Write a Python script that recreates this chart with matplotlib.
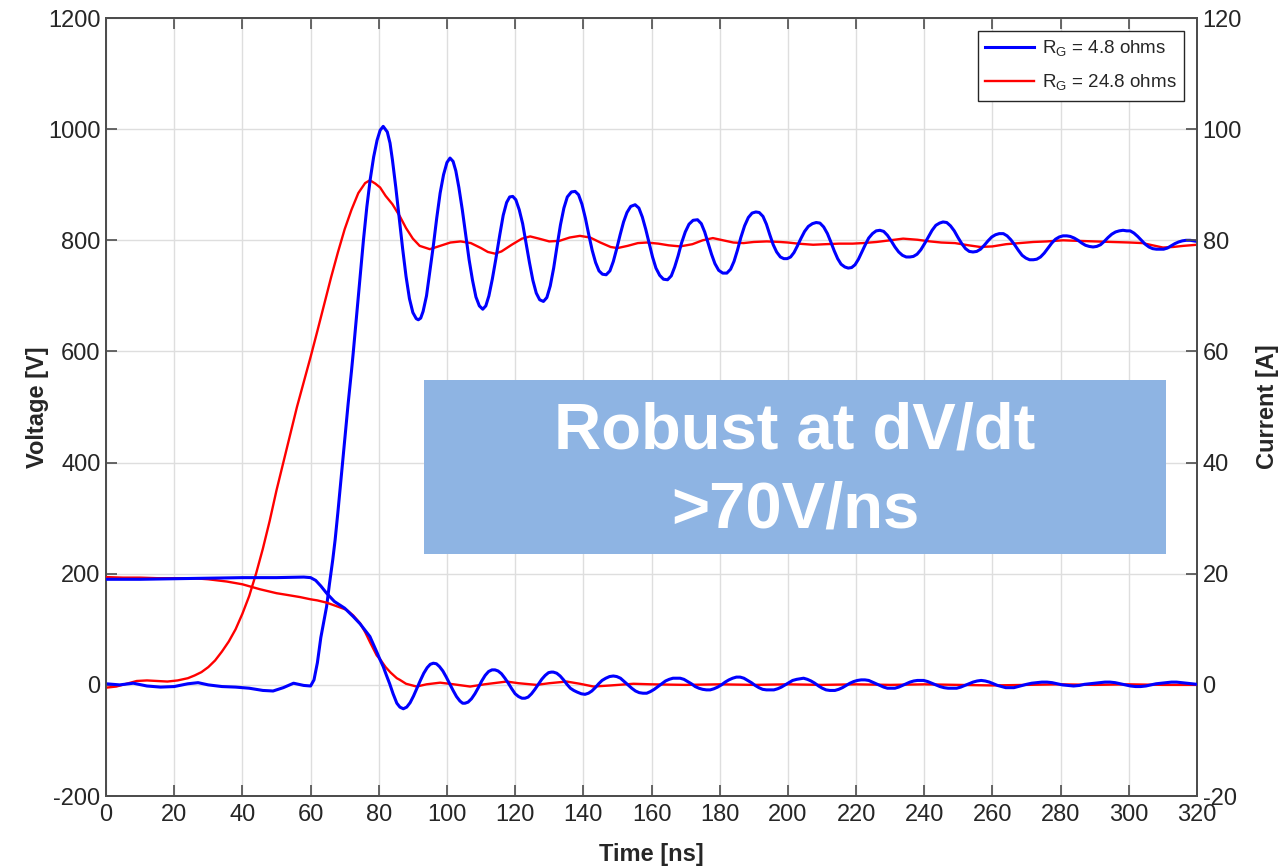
import matplotlib
matplotlib.use("Agg")
import matplotlib.pyplot as plt
from matplotlib.patches import Rectangle

# switching waveforms read off the scope capture
# time [ns], voltage [V] for RG = 4.8 ohms
t_v_blue = [0, 4, 8, 12, 16, 20, 24, 27, 30, 34, 38, 42, 46, 49, 52, 55, 58, 60, 61, 62, 63, 64,
            64.7, 65.5, 66.5, 67.2, 68, 69, 70, 71, 72, 72.5, 73.5, 74.5, 75.5, 76.5, 77.5, 78.5,
            79.5, 80.4, 81.3, 82.5, 83.3, 84, 85, 86, 87, 88, 89, 90, 91, 91.6, 92.3, 93, 94, 95,
            96, 97, 98, 99, 100, 100.9, 101.8, 102.6, 103.5, 104.5, 105.5, 106.5, 107.5, 108.5,
            109.5, 110.5, 111.4, 112.3, 113.3, 114.3, 115.5, 116.5, 117.5, 118.4, 119.3, 120.2,
            121.2, 122.2, 123.2, 124.2, 125.2, 126.2, 127.2, 128.3, 129.3, 130.3, 131.3, 132.3,
            133.3, 134.3, 135.3, 136.5, 137.6, 138.6, 139.6, 140.6, 141.6, 142.6, 143.6, 144.6,
            145.6, 146.7, 147.8, 148.8, 149.8, 150.8, 151.8, 152.8, 153.9, 155.2, 156.3, 157.3,
            158.3, 159.3, 160.3, 161.3, 162.4, 163.5, 164.7, 165.8, 166.8, 167.8, 168.8, 169.9,
            171, 172.2, 173.5, 174.6, 175.6, 176.6, 177.6, 178.6, 179.7, 180.9, 182.1, 183.2,
            184.2, 185.2, 186.2, 187.3, 188.4, 189.5, 190.6, 191.6, 192.7, 193.7, 194.7, 195.7,
            196.7, 197.8, 198.8, 199.8, 200.8, 201.8, 202.8, 203.8, 204.9, 206, 207.2, 208.3,
            209.4, 210.5, 211.6, 212.6, 213.6, 214.6, 215.6, 216.7, 217.7, 218.7, 219.7, 220.7,
            221.7, 222.7, 223.7, 224.8, 225.9, 227, 228.1, 229.2, 230.3, 231.4, 232.5, 233.6,
            234.7, 235.8, 236.8, 237.9, 239, 240.1, 241.2, 242.3, 243.4, 244.5, 245.5, 246.6,
            247.7, 248.8, 249.9, 251, 252.1, 253.2, 254.3, 255.4, 256.5, 257.6, 258.7, 259.8,
            260.9, 262, 263.2, 264.3, 265.4, 266.5, 267.6, 268.7, 269.8, 270.9, 272, 273, 274.1,
            275.2, 276.3, 277.4, 278.5, 279.6, 280.7, 281.8, 282.8, 284, 285.1, 286.2, 287.3,
            288.4, 289.5, 290.6, 291.7, 292.8, 293.9, 295, 296.1, 297.2, 298.3, 299.4, 300.4,
            301.5, 302.6, 303.7, 304.8, 305.9, 307, 308.1, 309.2, 310.2, 311.3, 312.4, 313.5,
            314.6, 315.7, 316.8, 318, 319, 320]
v_blue = [2, 0, 3, -2, -4, -3, 2, 4, 0, -3, -4, -6, -10, -11, -5, 3, -1, -2, 9, 40, 85, 118,
          141, 180, 225, 261, 310, 375, 440, 505, 565, 597, 665, 735, 800, 860, 910, 950,
          980, 998, 1005, 995, 975, 945, 895, 840, 785, 735, 695, 670, 659, 657, 660, 672, 700, 745,
          790, 840, 885, 918, 940, 948, 942, 925, 895, 855, 810, 765, 728, 698,
          682, 676, 682, 700, 730, 765, 810, 845, 868, 878, 879, 873,
          855, 830, 795, 760, 728, 705, 693, 690, 697, 718, 750, 790,
          828, 858, 878, 887, 888, 882, 865, 840, 810, 782, 760, 745,
          739, 738, 745, 762, 785, 810, 833, 850, 861, 864, 858, 842,
          820, 795, 770, 750, 737, 730, 729, 736, 752, 772, 795, 815,
          829, 836, 837, 830, 815, 795, 775, 758, 746, 741, 741, 748,
          762, 782, 805, 826, 841, 849, 851, 850, 843, 829, 810, 792,
          779, 770, 767, 767, 770, 778, 790, 803, 816, 825, 830, 832,
          831, 824, 812, 797, 781, 767, 757, 752, 750, 751, 756, 766,
          779, 792, 804, 812, 817, 818, 816, 809, 799, 788, 779, 773,
          770, 770, 771, 775, 783, 794, 806, 818, 827, 831, 833, 832,
          826, 817, 805, 794, 785, 780, 779, 780, 784, 791, 799, 806,
          810, 812, 812, 808, 801, 792, 782, 773, 768, 765, 765, 766, 770,
          777, 786, 795, 802, 806, 808, 808, 807, 804, 800, 795, 791,
          789, 788, 789, 792, 798, 805, 811, 815, 817, 818, 817, 817,
          813, 807, 800, 793, 788, 785, 784, 784, 784, 786, 790, 794,
          797, 799, 800, 800, 799, 798]

# time [ns], voltage [V] for RG = 24.8 ohms
t_v_red = [0, 3, 6, 9, 12, 15, 18, 21, 24, 26, 28, 30, 32, 34, 36, 38, 40, 42, 44, 46, 48, 50,
           52, 54, 56, 58, 60, 62, 64, 66, 68, 70, 72, 74, 76, 77.4, 79, 80.4, 82, 84, 86.2, 88,
           90, 92, 95, 98, 101, 104, 107, 110, 112, 114.1, 116, 119, 122, 124.4, 127, 130, 133,
           136, 139, 142, 145, 148, 150, 153, 156, 158.6, 162, 165, 168.4, 172, 175, 178, 181,
           184, 187, 190, 193.8, 197.7, 200, 203, 207.4, 211, 215, 219, 222, 226, 230, 233.8,
           238, 241.7, 245, 249, 253, 256.4, 260, 264, 268, 272, 276, 280.7, 285, 290, 295,
           300.4, 304, 307, 310, 313, 316, 320]
v_red = [-5, -3, 2, 7, 8, 7, 6, 8, 12, 17, 23, 32, 44, 60, 78, 100, 128, 160, 200, 245, 295, 350,
         400, 450, 500, 545, 590, 637, 685, 733, 778, 820, 855, 885, 903, 908, 902, 895, 880, 865, 843, 822,
         803, 790, 784, 790, 796, 798, 795, 786, 779, 776, 780, 792, 803, 807, 803, 798, 799,
         805, 808, 805, 796, 788, 786, 790, 795, 796, 794, 791, 789, 793, 800, 804, 800,
         796, 795, 797, 798, 797, 796, 794, 792, 793, 794, 794, 795, 797, 800, 803,
         801, 798, 796, 795, 791, 788, 789, 793, 795, 797, 798, 800, 799, 798, 797,
         796, 795, 791, 787, 788, 790, 792]

# time [ns], current [A] for RG = 4.8 ohms
t_i_blue = [0, 10, 20, 30, 40, 50, 58, 60, 61.5, 63, 64.7, 67, 70, 72.5, 74.5, 76, 77.4, 78.5,
            79.5, 80.4, 81.3, 82.2, 83.2, 84.2, 85.3, 86.2, 87.2, 88.2, 89.2, 90.2, 91.2, 92.2,
            93.2, 94.2, 95.1, 96, 96.9, 97.8, 98.8, 99.8, 100.8, 101.8, 102.8, 103.8, 104.6,
            105.3, 106.2, 107.2, 108.2, 109.2, 110.2, 111.2, 112.2, 113.2, 114.1, 115, 116, 117,
            118, 119, 120, 121, 122, 122.9, 123.8, 124.8, 125.8, 126.8, 127.8, 128.8, 129.8,
            130.6, 131.2, 132.2, 133.2, 134.2, 135.2, 136.2, 137.2, 138.2, 139.4, 140.5, 141.5,
            142.5, 143.5, 144.5, 145.5, 146.6, 147.7, 148.8, 149.8, 150.9, 152, 153.1, 154.2,
            155.3, 156.4, 157.5, 158.6, 159.7, 160.8, 161.9, 163, 164.1, 165.2, 166.3, 167.4,
            168.4, 169.5, 170.6, 171.7, 172.8, 173.9, 175, 176.1, 177.2, 178.3, 179.4, 180.5,
            181.6, 182.7, 183.8, 184.9, 186, 187.1, 188.2, 189.3, 190.4, 191.5, 192.6, 193.7,
            194.8, 195.9, 197, 198.1, 199.2, 200.3, 201.4, 202.6, 203.6, 204.6, 205.7, 206.8,
            207.9, 209, 210.1, 211.2, 212.3, 213.8, 214.9, 216, 217.1, 218.2, 219.3, 220.4,
            221.5, 222.6, 223.7, 224.8, 225.9, 227, 228.1, 229.2, 230.3, 231.4, 232.5, 233.6,
            234.7, 235.8, 236.9, 238, 239.8, 241, 242.2, 243.4, 244.6, 245.8, 247, 248.2, 249.5,
            250.7, 251.9, 253.1, 254.3, 255.5, 256.7, 257.9, 259.1, 260.3, 261.5, 262.7, 263.9,
            265.1, 266.3, 267.5, 268.7, 270, 271.5, 273, 274.5, 276, 277.5, 279, 280.5, 282,
            283.8, 285.5, 287, 288.5, 290, 291.5, 293, 294.5, 296, 297.5, 299, 300.5, 302, 303.5,
            305, 306.5, 308, 309.5, 311, 312.5, 314, 315.5, 317, 318.5, 320]
i_blue = [19.0, 19.0, 19.1, 19.2, 19.3, 19.3, 19.4, 19.3, 18.8, 17.8, 16.5, 15.0, 13.8, 12.3, 11.0, 9.8, 8.7, 7.2,
          5.8, 4.5, 3.3, 1.8, 0.2, -1.6, -3.3, -4.0, -4.3, -4.0, -3.2, -2.0, -0.6, 0.8,
          2.1, 3.1, 3.7, 3.9, 3.8, 3.3, 2.5, 1.4, 0.2, -1.0, -2.1, -2.9, -3.3,
          -3.3, -3.1, -2.5, -1.6, -0.5, 0.7, 1.7, 2.4, 2.7, 2.7, 2.5, 2.0, 1.2,
          0.3, -0.7, -1.6, -2.1, -2.4, -2.4, -2.2, -1.6, -0.8, 0.1, 1.0, 1.7, 2.2,
          2.3, 2.3, 2.1, 1.6, 0.9, 0.1, -0.6, -1.0, -1.3, -1.6, -1.7, -1.5,
          -1.1, -0.5, 0.2, 0.8, 1.2, 1.5, 1.6, 1.5, 1.2, 0.6, 0.0, -0.6,
          -1.1, -1.4, -1.5, -1.5, -1.2, -0.8, -0.3, 0.2, 0.7, 1.0, 1.2, 1.2,
          1.2, 1.0, 0.6, 0.2, -0.3, -0.6, -0.8, -0.9, -0.9, -0.7, -0.4, 0.0,
          0.5, 0.9, 1.2, 1.4, 1.4, 1.2, 0.8, 0.4, -0.1, -0.5, -0.8, -0.9,
          -0.9, -0.9, -0.7, -0.4, 0.0, 0.4, 0.8, 1.0, 1.1, 1.2, 1.0, 0.7,
          0.3, -0.2, -0.6, -0.9, -1.0, -1.0, -0.8, -0.5, -0.1, 0.3, 0.6, 0.8,
          0.9, 0.9, 0.8, 0.5, 0.2, -0.1, -0.4, -0.6, -0.6, -0.6, -0.4, -0.1,
          0.2, 0.5, 0.7, 0.8, 0.8, 0.6, 0.3, 0.0, -0.3, -0.5, -0.6, -0.6, -0.6,
          -0.4, -0.1, 0.2, 0.5, 0.7, 0.8, 0.7, 0.5, 0.2, -0.1, -0.3, -0.5,
          -0.5, -0.5, -0.3, -0.1, 0.1, 0.3, 0.4, 0.5, 0.5, 0.4, 0.2, 0.0, -0.1,
          -0.2, -0.1, 0.1, 0.2, 0.3, 0.4, 0.5, 0.5, 0.4, 0.2, 0.0, -0.2, -0.3, -0.3,
          -0.2, 0.0, 0.2, 0.3, 0.4, 0.5, 0.5, 0.4, 0.3, 0.2, 0.1]

# time [ns], current [A] for RG = 24.8 ohms
t_i_red = [0, 5, 10, 15, 20, 25.6, 30, 35.4, 40, 45.2, 50, 53, 56.9, 60, 62, 64.7, 67, 70.6, 72.5,
           74.5, 76, 77.5, 79.4, 80.4, 82, 83.5, 85.3, 86.2, 88, 91.1, 94, 98, 102, 106.8, 111,
           117.5, 121, 126.3, 130, 135.1, 139, 143, 148, 154.7, 160, 170, 180, 190, 200, 210,
           220, 230, 240, 250, 260, 270, 280, 290, 300, 310, 320]
i_red = [19.4, 19.3, 19.3, 19.2, 19.2, 19.2, 19.0, 18.6, 18.1, 17.2, 16.5, 16.2, 15.8, 15.4, 15.2, 14.8, 14.3, 13.5, 12.5,
         11.1, 9.5, 7.6, 5.3, 4.6, 3.2, 2.2, 1.2, 0.9, 0.2, -0.3, 0.1, 0.4, 0.1, -0.3, 0.1,
         0.6, 0.3, 0.0, 0.3, 0.6, 0.2, -0.3, -0.1, 0.2, 0.1, 0.0, 0.1, 0.0, 0.1, 0.0,
         0.1, 0.0, 0.1, 0.0, -0.1, 0.0, 0.1, 0.0, 0.1, 0.0, 0.0]

labels = [r"R$_\mathregular{G}$ = 4.8 ohms", r"R$_\mathregular{G}$ = 24.8 ohms"]
x_ticks = list(range(0, 321, 20))
v_ticks = list(range(-200, 1201, 200))
i_ticks = list(range(-20, 121, 20))

plt.rcParams["font.family"] = ["Liberation Sans", "DejaVu Sans"]
plt.rcParams["axes.unicode_minus"] = False
txt = "#262626"
axis_col = "#4d4d4d"

fig = plt.figure(figsize=(12.82, 8.66), dpi=100)
ax = fig.add_axes([0.0827, 0.0808, 0.851, 0.8984])
ax2 = ax.twinx()

l_red, = ax.plot(t_v_red, v_red, color="#ff0000", lw=1.7, zorder=3)
l_blue, = ax.plot(t_v_blue, v_blue, color="#0000ff", lw=2.2, zorder=4)
ax2.plot(t_i_red, i_red, color="#ff0000", lw=1.7, zorder=3)
ax2.plot(t_i_blue, i_blue, color="#0000ff", lw=2.2, zorder=4)

ax.set_xlim(0, 320)
ax.set_ylim(-200, 1200)
ax2.set_ylim(-20, 120)
ax.set_xticks(x_ticks)
ax.set_yticks(v_ticks)
ax2.set_yticks(i_ticks)

ax.grid(True, color="#dedede", lw=1.0)
ax.set_axisbelow(True)

for a in (ax, ax2):
    a.tick_params(direction="in", length=8, width=1.2, color=axis_col,
                  labelsize=17, labelcolor=txt)
    for s in a.spines.values():
        s.set_color(axis_col)
        s.set_linewidth(1.3)
ax.tick_params(axis="x", top=True, pad=6)
ax.tick_params(axis="y", pad=4)
ax2.tick_params(axis="y", pad=4)

ax.set_xlabel("Time [ns]", fontsize=17, fontweight="bold", color=txt, labelpad=12)
ax.set_ylabel("Voltage [V]", fontsize=17, fontweight="bold", color=txt, labelpad=-1)
ax2.set_ylabel("Current [A]", fontsize=17, fontweight="bold", color=txt, labelpad=10)

leg = ax2.legend([l_blue, l_red], labels, loc="upper right", fontsize=13.5,
                 fancybox=False, framealpha=1, edgecolor=txt, handlelength=2.6,
                 borderaxespad=0.7, labelspacing=0.75, handletextpad=0.4)
leg.get_frame().set_linewidth(1.0)
for t in leg.get_texts():
    t.set_color(txt)

# highlight box
ax2.add_patch(Rectangle((0.2915, 0.311), 0.6801, 0.2237, transform=ax.transAxes,
                        facecolor="#8eb4e3", edgecolor="none", zorder=6))
ax2.text(0.6315, 0.4177, "Robust at dV/dt\n>70V/ns", transform=ax.transAxes,
         ha="center", va="center", fontsize=47, fontweight="bold", color="white",
         linespacing=1.4, zorder=7)

fig.savefig("out.png", dpi=100)
